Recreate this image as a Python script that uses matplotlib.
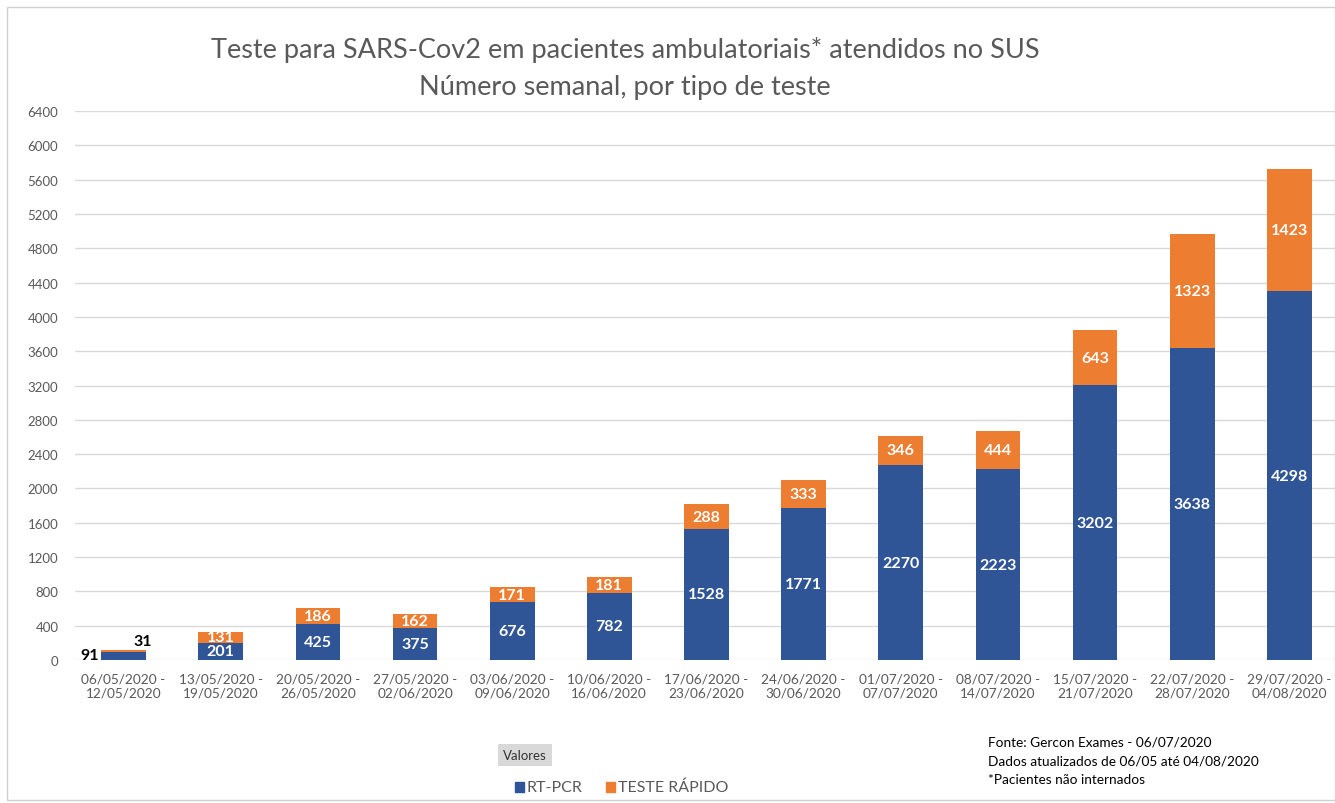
import matplotlib.pyplot as plt
from matplotlib.patches import Rectangle

plt.rcParams["font.family"] = ["Lato", "DejaVu Sans"]

weeks = [
    "06/05/2020 -\n12/05/2020", "13/05/2020 -\n19/05/2020", "20/05/2020 -\n26/05/2020",
    "27/05/2020 -\n02/06/2020", "03/06/2020 -\n09/06/2020", "10/06/2020 -\n16/06/2020",
    "17/06/2020 -\n23/06/2020", "24/06/2020 -\n30/06/2020", "01/07/2020 -\n07/07/2020",
    "08/07/2020 -\n14/07/2020", "15/07/2020 -\n21/07/2020", "22/07/2020 -\n28/07/2020",
    "29/07/2020 -\n04/08/2020",
]
rt_pcr = [91, 201, 425, 375, 676, 782, 1528, 1771, 2270, 2223, 3202, 3638, 4298]
teste_rapido = [31, 131, 186, 162, 171, 181, 288, 333, 346, 444, 643, 1323, 1423]
y_ticks = list(range(0, 6401, 400))

blue = "#2F5597"
orange = "#ED7D31"
gray = "#595959"

fig = plt.figure(figsize=(13.35, 8.04), dpi=100)
fig.patches.append(Rectangle((0.005, 0.004), 0.995, 0.986, transform=fig.transFigure,
                             fill=False, edgecolor="#D0D0D0", linewidth=1))

ax = fig.add_axes([75 / 1335, 143 / 804, 1260 / 1335, 549 / 804])
x = range(len(weeks))
ax.bar(x, rt_pcr, width=0.46, color=blue, zorder=3)
ax.bar(x, teste_rapido, width=0.46, bottom=rt_pcr, color=orange, zorder=3)

# data labels
for i, (a, b) in enumerate(zip(rt_pcr, teste_rapido)):
    if i == 0:
        ax.annotate(str(a), (i - 0.25, a * 0.7), ha="right", va="center",
                    fontsize=11.5, fontweight="bold", color="black")
        ax.annotate(str(b), (i + 0.2, a + b), xytext=(0, 1), textcoords="offset points",
                    ha="center", va="bottom", fontsize=11.5, fontweight="bold", color="black")
    else:
        ax.text(i, a / 2, str(a), ha="center", va="center",
                fontsize=11.5, fontweight="bold", color="white", zorder=4)
        ax.text(i, a + b / 2, str(b), ha="center", va="center",
                fontsize=11.5, fontweight="bold", color="white", zorder=4)

ax.set_ylim(0, 6400)
ax.set_xlim(-0.5, 12.47)
ax.set_yticks(y_ticks)
ax.set_xticks(list(x))
ax.set_xticklabels(weeks, fontsize=9.8, color=gray, linespacing=1.25)
ax.tick_params(axis="y", labelsize=9.5, labelcolor=gray, length=0, pad=12)
ax.tick_params(axis="x", length=0, pad=9)
ax.grid(axis="y", color="#D9D9D9", linewidth=1, zorder=0)
for s in ax.spines.values():
    s.set_visible(False)

fig.text(625 / 1335, 1 - 50 / 804, "Teste para SARS-Cov2 em pacientes ambulatoriais* atendidos no SUS",
         ha="center", va="center", fontsize=19.5, color=gray)
fig.text(625 / 1335, 1 - 87 / 804, "Número semanal, por tipo de teste",
         ha="center", va="center", fontsize=19.5, color=gray)

# legend
fig.text(525 / 1335, 1 - 756 / 804, "Valores", ha="center", va="center", fontsize=9.5, color="#333333",
         bbox=dict(boxstyle="square,pad=0.4", facecolor="#D9D9D9", edgecolor="none"))
fig.patches.append(Rectangle((515 / 1335, 1 - 793 / 804), 9 / 1335, 10 / 804,
                             transform=fig.transFigure, color=blue))
fig.text(527 / 1335, 1 - 788 / 804, "RT-PCR", ha="left", va="center", fontsize=11.5, color=gray)
fig.patches.append(Rectangle((606 / 1335, 1 - 793 / 804), 9 / 1335, 10 / 804,
                             transform=fig.transFigure, color=orange))
fig.text(618 / 1335, 1 - 788 / 804, "TESTE RÁPIDO", ha="left", va="center", fontsize=11.5, color=gray)

notes = ["Fonte: Gercon Exames - 06/07/2020",
         "Dados atualizados de 06/05 até 04/08/2020",
         "*Pacientes não internados"]
for k, line in enumerate(notes):
    fig.text(988 / 1335, 1 - (743 + 18.5 * k) / 804, line, ha="left", va="center",
             fontsize=9.8, color="black")

fig.savefig("out.png", dpi=100)
